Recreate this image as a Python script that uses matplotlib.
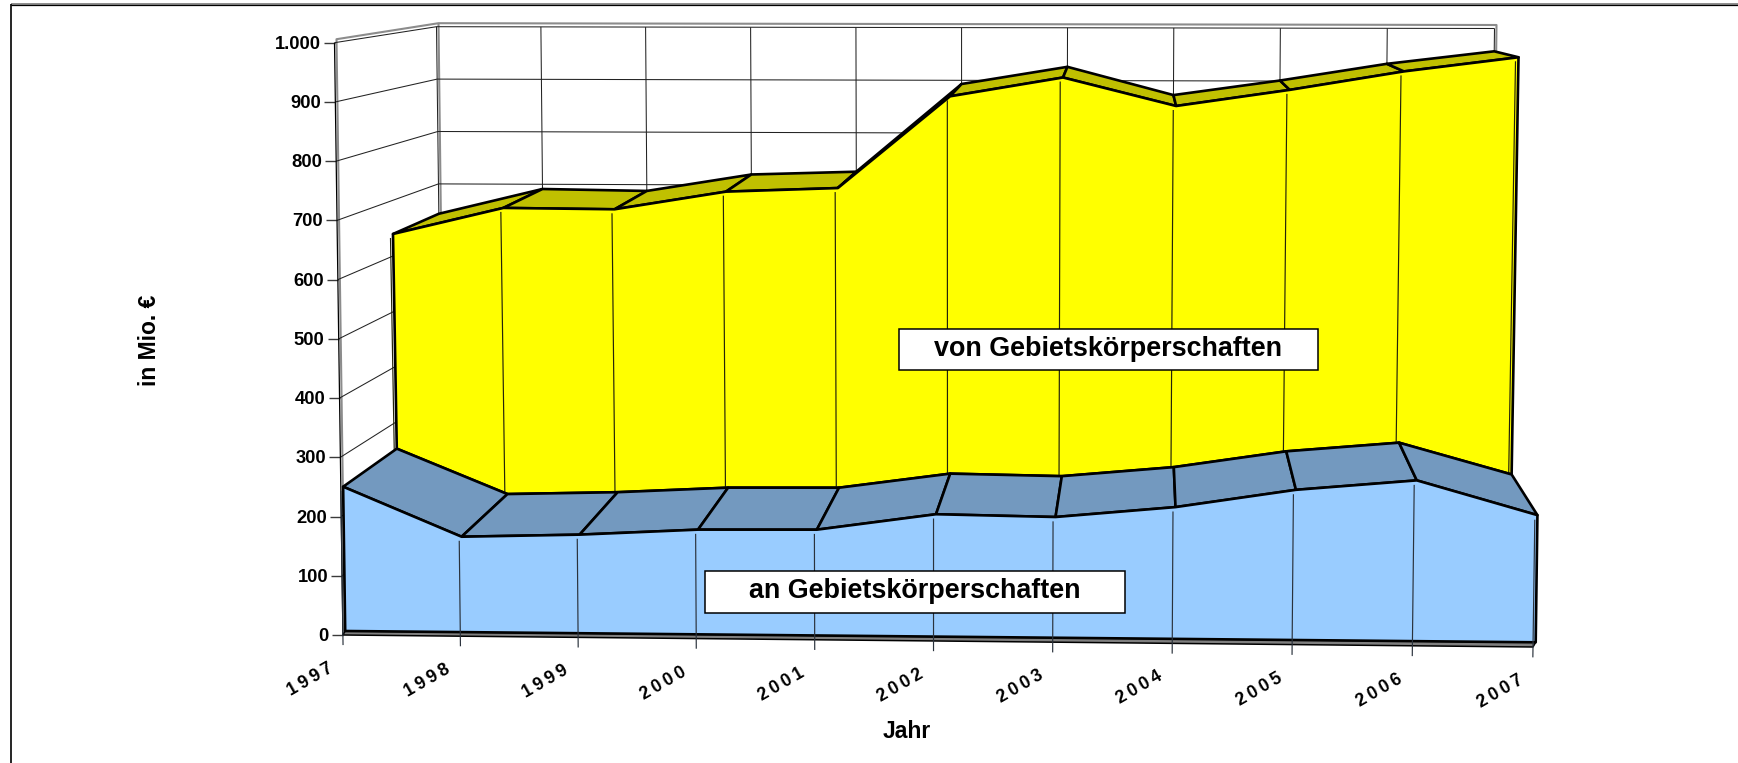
import numpy as np
import matplotlib
matplotlib.use("Agg")
import matplotlib.pyplot as plt
from matplotlib.patches import Polygon, Rectangle

plt.rcParams['font.family'] = ['Liberation Sans', 'DejaVu Sans']

years = ['1997', '1998', '1999', '2000', '2001', '2002', '2003', '2004', '2005', '2006', '2007']
an_gebiet = [243.6, 160.6, 165.5, 175.3, 176.6, 203.7, 200.4, 218.1, 247.9, 264.6, 208.7]
von_gebiet = [643, 691, 688, 720, 726, 893, 926, 873, 901, 933, 957]
y_ticks = [0, 100, 200, 300, 400, 500, 600, 700, 800, 900, 1000]
y_labels = ['0', '100', '200', '300', '400', '500', '600', '700', '800', '900', '1.000']
series_an = 'an Gebietskörperschaften'
series_von = 'von Gebietskörperschaften'

W, H = 1738, 763
C_YEL, C_OLV = '#FFFF00', '#C0C000'
C_BLU, C_RDG = '#99CCFF', '#7399BF'
BLK, GRY = '#000000', '#8C8C8C'
THICK, THIN = 1.9, 0.75

# Depth planes of the 3-D box (layout of the perspective, not data):
# images of (u,w) = (0,0), (1,0), (0,1), (1,1)
PLANES = {
    'axis':  [(342.9, 635.0), (1533.0, 647.0), (334.5, 42.7), (1541.6, 37.0)],
    'front': [(345.2, 631.0), (1535.7, 642.3), (336.7, 38.7), (1544.0, 33.0)],
    'mid':   [(399.1, 579.6), (1509.7, 590.8), (389.6, 42.1), (1518.9, 33.3)],
    'drop':  [(396.6, 583.6), (1506.7, 594.8), (387.1, 46.1), (1515.9, 37.3)],
    'back':  [(443.0, 550.7), (1488.0, 559.0), (436.5, 26.7), (1494.5, 28.5)],
}
PERSP = 1.015
N = len(years) - 1


def P(i, v, plane, dx=0.0, dy=0.0):
    u = i / N
    u = u / (PERSP + (1 - PERSP) * u)
    w = v / 1000.0
    c = np.array(PLANES[plane], float)
    p = (1 - u) * (1 - w) * c[0] + u * (1 - w) * c[1] + (1 - u) * w * c[2] + u * w * c[3]
    return (p[0] + dx, p[1] + dy)


fig = plt.figure(figsize=(W / 100, H / 100), dpi=100, facecolor='white')
ax = fig.add_axes([0, 0, 1, 1])
ax.set_xlim(0, W)
ax.set_ylim(H, 0)
ax.axis('off')


def line(pts, color=BLK, lw=THIN, z=2, **kw):
    xs, ys = zip(*pts)
    ax.plot(xs, ys, color=color, lw=lw, zorder=z, solid_capstyle='butt', **kw)


def poly(pts, fc, ec=BLK, lw=THICK, z=3):
    ax.add_patch(Polygon(pts, closed=True, fc=fc, ec=ec, lw=lw, zorder=z, joinstyle='round'))


# Outer frame: only top and left are visible
line([(11, 4), (W, 4)], color=GRY, lw=1.4, z=1)
line([(11, 5), (W, 5)], color=BLK, lw=0.9, z=1)
line([(11, 4), (11, H)], color=BLK, lw=1.2, z=1)

# Walls: grey outer edge
SX, SY = 2.0, -3.5
line([P(0, 0, 'axis', SX, 0), P(0, 1000, 'axis', SX, SY), P(0, 1000, 'back', SX, SY),
      P(N, 1000, 'back', SX, SY), P(N, 0, 'back', SX, 0)], color=GRY, lw=1.5, z=1.5)
line([P(0, 0, 'back', SX, 0), P(0, 1000, 'back', SX, SY)], color=GRY, lw=1.5, z=1.5)

# Horizontal gridlines on left wall and back wall, ticks and labels
GRID = '#222222'
for v, lab in zip(y_ticks, y_labels):
    line([P(0, v, 'axis'), P(0, v, 'back'), P(N, v, 'back')], color=GRID)
    x0, y0 = P(0, v, 'axis')
    line([(x0 - 11, y0), (x0, y0)], color='#3A3A3A', lw=1.0)
    ax.text(x0 - 14, y0 + 1.5, lab, ha='right', va='center', fontsize=13.2, fontweight='bold', color=BLK)
line([P(0, 0, 'axis'), P(0, 1000, 'axis')], color=BLK, lw=0.9)

# Vertical gridlines on the back wall
for i in range(N + 1):
    line([P(i, 0, 'back'), P(i, 1000, 'back')], color=GRID)

# Yellow series: top surface, then front face
for i in range(N):
    poly([P(i, von_gebiet[i], 'mid'), P(i + 1, von_gebiet[i + 1], 'mid'),
          P(i + 1, von_gebiet[i + 1], 'back'), P(i, von_gebiet[i], 'back')], C_OLV, z=3)
yel_face = [P(i, von_gebiet[i], 'mid') for i in range(N + 1)] + \
           [P(i, an_gebiet[i], 'mid') for i in range(N, -1, -1)]
poly(yel_face, C_YEL, z=4)
for i in range(N + 1):
    line([P(i, von_gebiet[i], 'drop'), P(i, an_gebiet[i], 'drop')], color='#23230A', lw=0.85, z=4.5)

# Blue series: ridge surface, then floor strip and front face
for i in range(N):
    poly([P(i, an_gebiet[i], 'front'), P(i + 1, an_gebiet[i + 1], 'front'),
          P(i + 1, an_gebiet[i + 1], 'mid'), P(i, an_gebiet[i], 'mid')], C_RDG, z=5)
poly([P(0, 0, 'front'), P(N, 0, 'front'), P(N, 0, 'axis'), P(0, 0, 'axis')], '#7F7F7F', lw=1.1, z=5.5)
blu_face = [P(i, an_gebiet[i], 'front') for i in range(N + 1)] + [P(N, 0, 'front'), P(0, 0, 'front')]
poly(blu_face, C_BLU, z=6)

# Drop lines in front of the blue face run on into the x-axis ticks
for i in range(N + 1):
    line([P(i, an_gebiet[i], 'axis'), P(i, -17, 'axis')], color='#2A323C', lw=0.85, z=6.5)

# Year labels
for i, yr in enumerate(years):
    x, y = P(i, 0, 'axis')
    ax.text(x - 9, y + 36, '\u2009'.join(yr), rotation=30, rotation_mode='anchor', ha='right', va='baseline',
            fontsize=12.7, fontweight='bold', color=BLK, zorder=7)

# Series name boxes
for (x0, y0, x1, y1), name in (((899.3, 329.3, 1318, 370), series_von),
                               ((705, 570.7, 1125, 612.7), series_an)):
    ax.add_patch(Rectangle((x0, y0), x1 - x0, y1 - y0, fc='white', ec=BLK, lw=1.1, zorder=8))
    ax.text((x0 + x1) / 2 - 0.5, (y0 + y1) / 2 - 1, name, ha='center', va='center',
            fontsize=19.4, fontweight='bold', color=BLK, zorder=9)

# Axis titles
ax.text(149.5, 340, 'in Mio. €', rotation=90, ha='center', va='center', fontsize=16.5, fontweight='bold')
ax.text(906.7, 731.5, 'Jahr', ha='center', va='center', fontsize=16.5, fontweight='bold')

fig.savefig('out.png', dpi=100, facecolor='white')
